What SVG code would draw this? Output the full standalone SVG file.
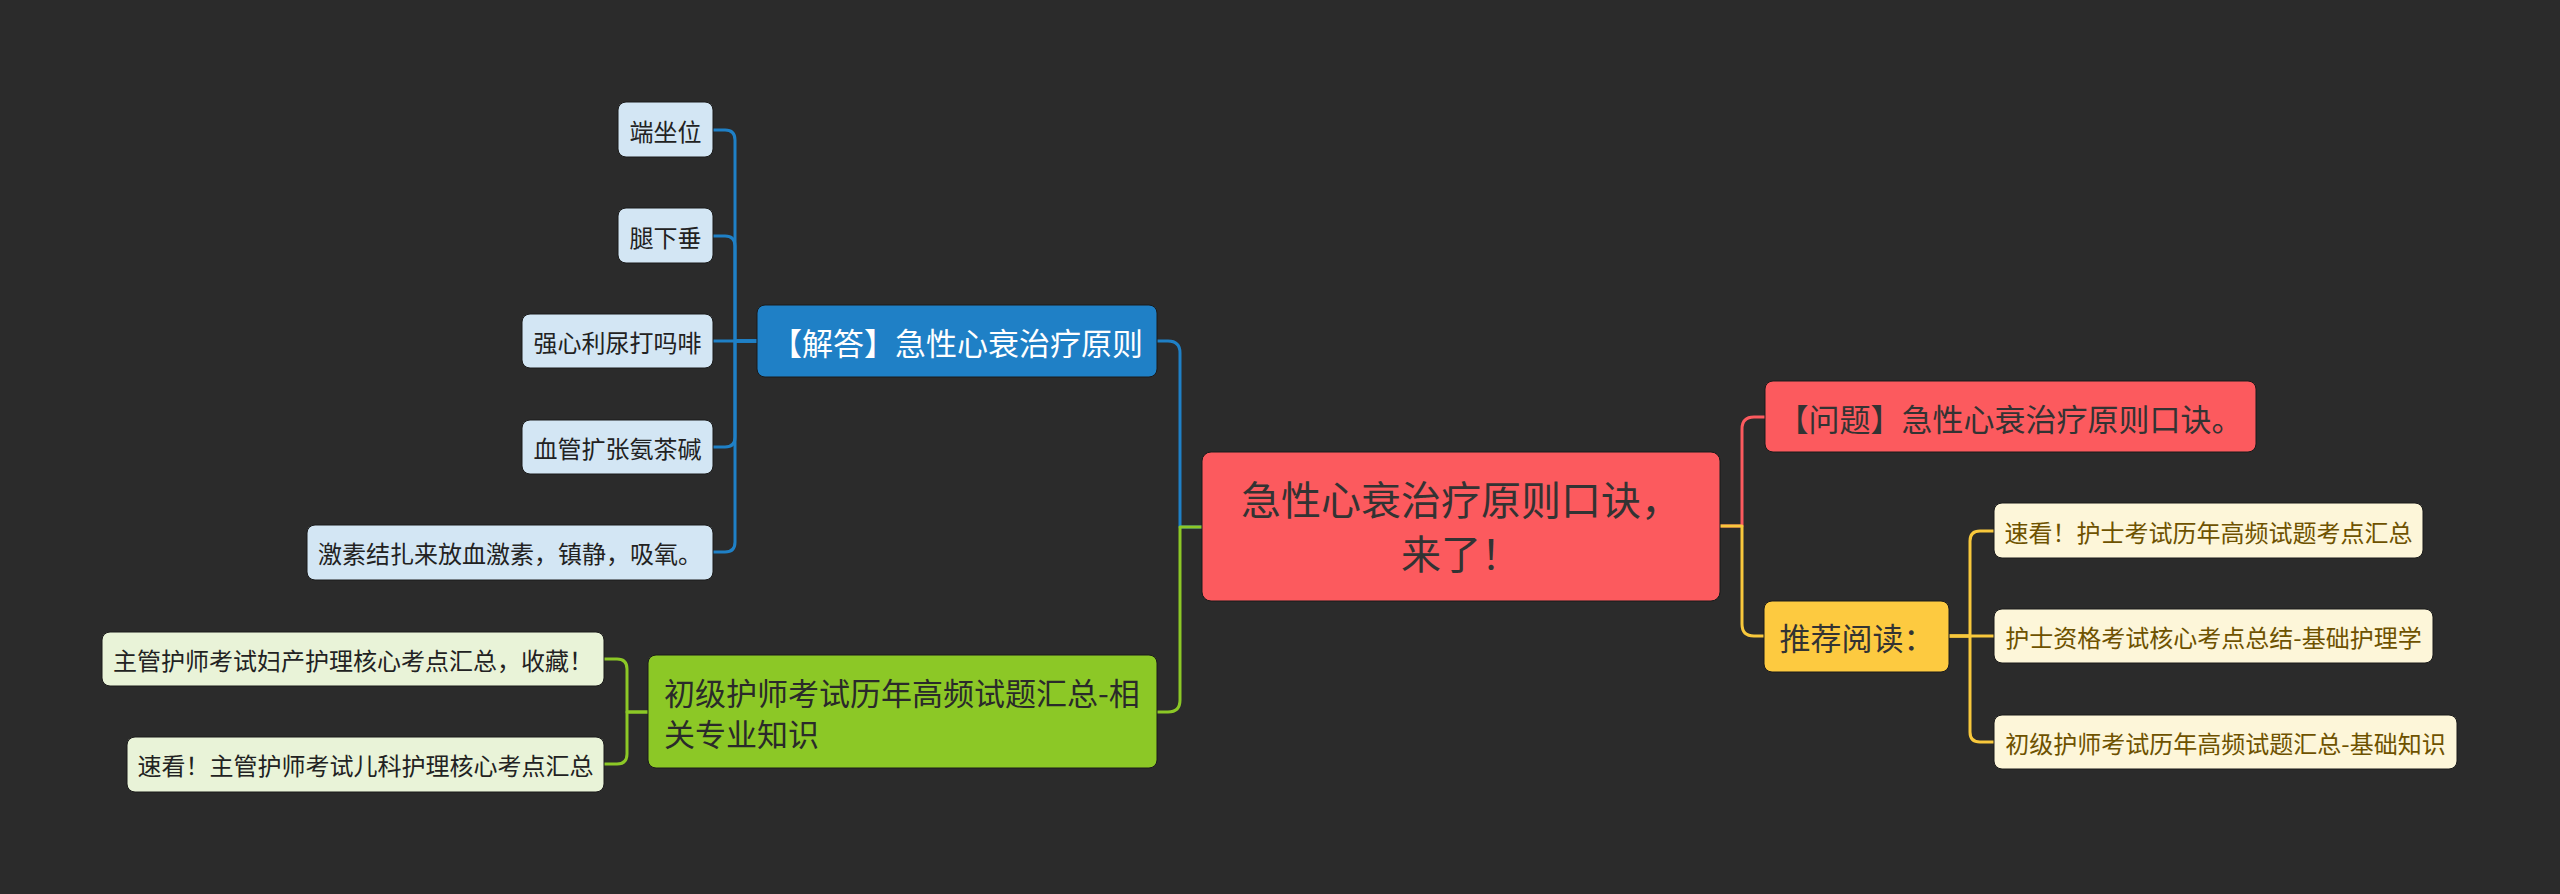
<svg xmlns="http://www.w3.org/2000/svg" width="2560" height="894" viewBox="0 0 2560 894">
<style>
text{font-family:"Noto Sans CJK SC","Noto Sans",sans-serif;dominant-baseline:central;}
.c{text-anchor:middle;}
.l{text-anchor:start;}
.ln{fill:none;stroke-width:3;stroke-linejoin:round;}
.blue{stroke:#1f80c6;}
.green{stroke:#8cc826;}
.red{stroke:#fc5a5e;}
.yel{stroke:#f8c83c;}
.leafB rect{fill:#d3e6f4;stroke:#1a1a1a;stroke-width:1;}
.leafG rect{fill:#e9f3d8;stroke:#1a1a1a;stroke-width:1;}
.leafY rect{fill:#fdf6d9;stroke:#1a1a1a;stroke-width:1;}
.leafB text,.leafG text{fill:#222;font-size:24px;}
.leafY text{fill:#6e5200;font-size:24px;}
</style>
<rect width="2560" height="894" fill="#2b2b2b"/>
<g id="connectors">
<path class="ln blue" d="M1202,527 H1180 V353 Q1180,341 1168,341 H1157"/>
<path class="ln green" d="M1202,527 H1180 V700 Q1180,712 1168,712 H1157"/>
<path class="ln red" d="M1720,526 H1742 V429 Q1742,417 1754,417 H1765"/>
<path class="ln yel" d="M1720,526 H1742 V624 Q1742,636 1754,636 H1764"/>
<path class="ln blue" d="M757,341 H735 V140 Q735,130 725,130 H713"/>
<path class="ln blue" d="M757,341 H735 V246 Q735,236 725,236 H713"/>
<path class="ln blue" d="M757,341 H713"/>
<path class="ln blue" d="M757,341 H735 V437 Q735,447 725,447 H713"/>
<path class="ln blue" d="M757,341 H735 V542 Q735,552 725,552 H713"/>
<path class="ln green" d="M648,712 H627 V669 Q627,659 617,659 H604"/>
<path class="ln green" d="M648,712 H627 V754 Q627,764 617,764 H604"/>
<path class="ln yel" d="M1949,636 H1970 V541 Q1970,531 1980,531 H1994"/>
<path class="ln yel" d="M1949,636 H1994"/>
<path class="ln yel" d="M1949,636 H1970 V732 Q1970,742 1980,742 H1994"/>
</g>
<g id="root">
<rect x="1202" y="452" width="518" height="149" rx="9" fill="#fc5a5e" stroke="#1a1a1a" stroke-width="1"/>
<text class="c" x="1461" y="498" font-size="40" fill="#333">急性心衰治疗原则口诀，</text>
<text class="c" x="1461" y="552" font-size="40" fill="#333">来了！</text>
</g>
<g id="answer">
<rect x="757" y="305" width="400" height="72" rx="8" fill="#1f80c6" stroke="#1a1a1a" stroke-width="1"/>
<text class="c" x="957" y="341" font-size="31" fill="#fff">【解答】急性心衰治疗原则</text>
</g>
<g id="related">
<rect x="648" y="655" width="509" height="113" rx="8" fill="#8cc826" stroke="#1a1a1a" stroke-width="1"/>
<text class="l" x="664" y="691" font-size="31" fill="#2a2a2a">初级护师考试历年高频试题汇总-相</text>
<text class="l" x="664" y="732" font-size="31" fill="#2a2a2a">关专业知识</text>
</g>
<g id="question">
<rect x="1765" y="381" width="491" height="71" rx="8" fill="#fc5a5e" stroke="#1a1a1a" stroke-width="1"/>
<text class="c" x="2010" y="417" font-size="31" fill="#333">【问题】急性心衰治疗原则口诀。</text>
</g>
<g id="recommend">
<rect x="1764" y="601" width="185" height="71" rx="8" fill="#fdca40" stroke="#1a1a1a" stroke-width="1"/>
<text class="c" x="1857" y="636" font-size="31" fill="#333">推荐阅读：</text>
</g>
<g id="leaf-b1" class="leafB"><rect x="618" y="102" width="95" height="55" rx="8"/><text class="c" x="665.5" y="130">端坐位</text></g>
<g id="leaf-b2" class="leafB"><rect x="618" y="208" width="95" height="55" rx="8"/><text class="c" x="665.5" y="236">腿下垂</text></g>
<g id="leaf-b3" class="leafB"><rect x="522" y="314" width="191" height="54" rx="8"/><text class="c" x="617.5" y="341">强心利尿打吗啡</text></g>
<g id="leaf-b4" class="leafB"><rect x="522" y="420" width="191" height="54" rx="8"/><text class="c" x="617.5" y="447">血管扩张氨茶碱</text></g>
<g id="leaf-b5" class="leafB"><rect x="307" y="525" width="406" height="55" rx="8"/><text class="c" x="510" y="552.5">激素结扎来放血激素，镇静，吸氧。</text></g>
<g id="leaf-g1" class="leafG"><rect x="102" y="632" width="502" height="54" rx="8"/><text class="c" x="353" y="659">主管护师考试妇产护理核心考点汇总，收藏！</text></g>
<g id="leaf-g2" class="leafG"><rect x="127" y="737" width="477" height="55" rx="8"/><text class="c" x="365.5" y="764.5">速看！主管护师考试儿科护理核心考点汇总</text></g>
<g id="leaf-y1" class="leafY"><rect x="1994" y="503" width="429" height="55" rx="8"/><text class="c" x="2208.5" y="531">速看！护士考试历年高频试题考点汇总</text></g>
<g id="leaf-y2" class="leafY"><rect x="1994" y="609" width="439" height="54" rx="8"/><text class="c" x="2213.5" y="636">护士资格考试核心考点总结-基础护理学</text></g>
<g id="leaf-y3" class="leafY"><rect x="1994" y="715" width="463" height="54" rx="8"/><text class="c" x="2225.5" y="742">初级护师考试历年高频试题汇总-基础知识</text></g>
</svg>
